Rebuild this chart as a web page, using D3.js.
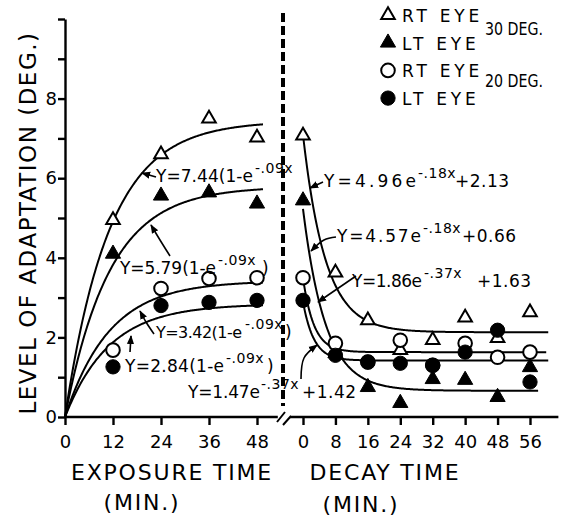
<!DOCTYPE html>
<html lang="en">
<head>
<meta charset="UTF-8">
<title>Level of adaptation: exposure and decay</title>
<script src="https://d3js.org/d3.v7.min.js"></script>
<style>
    body { margin: 0; background: #fff; }
    svg { display: block; font-family: 'DejaVu Sans', sans-serif; }
    .axis path, .axis line { stroke: #000; stroke-width: 2.4; }
    .axis text { font-size: 18px; fill: #000; font-family: 'DejaVu Sans', sans-serif; }
</style>
</head>
<body>
<div id="chart"></div>
<script>
// exposure phase, minutes
const expTimes = [12, 24, 36, 48];
const expRt30 = [4.95, 6.6, 7.5, 7.02];
const expLt30 = [4.1, 5.56, 5.64, 5.36];
const expRt20 = [1.68, 3.23, 3.48, 3.5];
const expLt20 = [1.26, 2.8, 2.88, 2.93];

// decay phase, minutes
const decTimes = [0, 8, 16, 24, 32, 40, 48, 56];
const decRt30 = [7.07, 3.63, 2.43, 1.68, 1.93, 2.5, 1.98, 2.63];
const decLt30 = [5.44, 1.6, 0.75, 0.35, 0.95, 0.93, 0.5, 1.25];
const decRt20 = [3.5, 1.85, 1.38, 1.93, 1.3, 1.85, 1.5, 1.63];
const decLt20 = [2.93, 1.55, 1.38, 1.35, 1.3, 1.63, 2.18, 0.88];

// fitted curves as printed: Y = A(1-e^-kx)  and  Y = A e^-kx + C
const expFitA = [7.44, 5.79, 3.42, 2.84];
const expFitK = 0.09;
const expFitEnd = 49.5;
const decFitA = [4.96, 4.57, 1.86, 1.47];
const decFitK = [0.18, 0.18, 0.37, 0.37];
const decFitC = [2.13, 0.66, 1.63, 1.42];
const decFitEnd = [60.5, 58, 60, 60.5];

const yTicks = [0, 1, 2, 3, 4, 5, 6, 7, 8, 9, 10];
const yLabels = [0, 2, 4, 6, 8];
const expTicks = [0, 12, 24, 36, 48];
const decTicks = [0, 8, 16, 24, 32, 40, 48, 56];
const legendRows = ['RT EYE', 'LT EYE', 'RT EYE', 'LT EYE'];
const legendGroups = ['30 DEG.', '20 DEG.'];

const W = 582, H = 517;

const svg = d3.select('#chart').append('svg')
    .attr('width', W)
    .attr('height', H);

const y = d3.scaleLinear().domain([0, 10]).range([417, 19]);
const xExp = d3.scaleLinear().domain([0, 48]).range([65, 257]);
const xDec = d3.scaleLinear().domain([0, 56]).range([303, 530]);

// arrow head
svg.append('defs').append('marker')
    .attr('id', 'head')
    .attr('viewBox', '0 0 10 10')
    .attr('refX', 9).attr('refY', 5)
    .attr('markerUnits', 'userSpaceOnUse')
    .attr('markerWidth', 9).attr('markerHeight', 9)
    .attr('orient', 'auto')
    .append('path')
    .attr('d', 'M0,1L10,5L0,9z')
    .attr('fill', '#000');

// ---- axes ----
svg.append('g')
    .attr('class', 'axis')
    .attr('transform', `translate(${xExp(0)},0)`)
    .call(d3.axisLeft(y).tickValues(yTicks).tickSize(7).tickSizeOuter(0).tickPadding(1)
        .tickFormat(d => yLabels.includes(d) ? d : ''));

const gExp = svg.append('g')
    .attr('class', 'axis')
    .attr('transform', `translate(0,${y(0)})`)
    .call(d3.axisBottom(xExp).tickValues(expTicks).tickSize(8).tickSizeOuter(0).tickPadding(10));
gExp.select('.domain').attr('d', `M${xExp(0)},0H${xExp(53.2)}`);

const gDec = svg.append('g')
    .attr('class', 'axis')
    .attr('transform', `translate(0,${y(0)})`)
    .call(d3.axisBottom(xDec).tickValues(decTicks).tickSize(8).tickSizeOuter(0).tickPadding(10));
gDec.select('.domain').attr('d', `M${xDec(-3.2)},0H${xDec(63)}`);

// axis break marks
svg.append('path')
    .attr('d', 'M277,422L285,412M283,425L291,416')
    .attr('stroke', '#000').attr('stroke-width', 2).attr('fill', 'none');

// dashed divider
svg.append('line')
    .attr('x1', 283).attr('x2', 283)
    .attr('y1', 13).attr('y2', 406)
    .attr('stroke', '#000').attr('stroke-width', 4)
    .attr('stroke-dasharray', '9,4');

// ---- fitted curves ----
const line = d3.line().x(d => d[0]).y(d => d[1]);

expFitA.forEach(a => {
    const pts = d3.range(0, expFitEnd + 0.01, 0.25)
        .map(t => [xExp(t), y(a * (1 - Math.exp(-expFitK * t)))]);
    svg.append('path').attr('d', line(pts))
        .attr('fill', 'none').attr('stroke', '#000').attr('stroke-width', 2);
});

decFitA.forEach((a, i) => {
    const pts = d3.range(0, decFitEnd[i] + 0.01, 0.25)
        .map(t => [xDec(t), y(a * Math.exp(-decFitK[i] * t) + decFitC[i])]);
    svg.append('path').attr('d', line(pts))
        .attr('fill', 'none').attr('stroke', '#000').attr('stroke-width', 2);
});

// ---- points ----
const series = [
    { exp: expRt30, dec: decRt30, shape: d3.symbolTriangle, size: 80, filled: false },
    { exp: expLt30, dec: decLt30, shape: d3.symbolTriangle, size: 100, filled: true },
    { exp: expRt20, dec: decRt20, shape: d3.symbolCircle, size: 145, filled: false },
    { exp: expLt20, dec: decLt20, shape: d3.symbolCircle, size: 160, filled: true }
];

function drawMarks(s, xs, vals, xScale) {
    svg.append('g').selectAll('path')
        .data(xs.map((t, i) => [t, vals[i]]))
        .join('path')
        .attr('d', d3.symbol(s.shape, s.size)())
        .attr('transform', d => `translate(${xScale(d[0])},${y(d[1])})`)
        .attr('fill', s.filled ? '#000' : '#fff')
        .attr('stroke', '#000')
        .attr('stroke-width', s.filled ? 1 : 2);
}

series.forEach(s => {
    drawMarks(s, expTimes, s.exp, xExp);
    drawMarks(s, decTimes, s.dec, xDec);
});

// ---- equation labels ----
const notes = [
    { x: 156, y: 182, size: 17, main: 'Y=7.44(1-e', w: 97, sup: '-.09x', supX: 255, tail: '', tailX: 0,
      arrow: [[156, 177], [142, 173]] },
    { x: 120, y: 274, size: 17, main: 'Y=5.79(1-e', w: 96, sup: '-.09x', supX: 218, tail: ')', tailX: 262,
      arrow: [[170, 256], [160, 240], [151, 225]] },
    { x: 156, y: 338, size: 16, main: 'Y=3.42(1-e', w: 86, sup: '-.09x', supX: 245, tail: ')', tailX: 285,
      arrow: [[154, 334], [146, 322], [140, 311]] },
    { x: 125, y: 372, size: 17, main: 'Y=2.84(1-e', w: 99, sup: '-.09x', supX: 226, tail: ')', tailX: 267,
      arrow: [[130, 352], [131, 336]] },
    { x: 188, y: 398, size: 17, main: 'Y=1.47e', w: 72, sup: '-.37x', supX: 261, tail: '+1.42', tailX: 302,
      arrow: [[301, 379], [304, 358], [317, 345]] },
    { x: 324, y: 187, size: 17, main: 'Y=4.96e', w: 92, sup: '-.18x', supX: 418, tail: '+2.13', tailX: 455,
      arrow: [[323, 182], [310, 188]] },
    { x: 337, y: 242, size: 17, main: 'Y=4.57e', w: 84, sup: '-.18x', supX: 423, tail: '+0.66', tailX: 462,
      arrow: [[336, 237], [324, 240], [311, 251]] },
    { x: 352, y: 287, size: 17, main: 'Y=1.86e', w: 70, sup: '-.37x', supX: 424, tail: '+1.63', tailX: 477,
      arrow: [[356, 276], [318, 302]] }
];

const arrowLine = d3.line().curve(d3.curveCatmullRom);

notes.forEach(n => {
    svg.append('text')
        .attr('x', n.x).attr('y', n.y)
        .attr('font-size', n.size)
        .attr('textLength', n.w)
        .attr('lengthAdjust', 'spacing')
        .text(n.main);
    svg.append('text')
        .attr('x', n.supX).attr('y', n.y - 9)
        .attr('font-size', 14)
        .attr('letter-spacing', 0.5)
        .text(n.sup);
    if (n.tail) {
        svg.append('text')
            .attr('x', n.tailX).attr('y', n.y)
            .attr('font-size', 17)
            .attr('letter-spacing', 0.5)
            .text(n.tail);
    }
    svg.append('path')
        .attr('d', arrowLine(n.arrow))
        .attr('fill', 'none').attr('stroke', '#000').attr('stroke-width', 1.6)
        .attr('marker-end', 'url(#head)');
});

// ---- legend ----
const legend = svg.append('g');
legendRows.forEach((label, i) => {
    const cy = 15 + i * 27.7;
    const s = series[i];
    legend.append('path')
        .attr('d', d3.symbol(s.shape, s.size)())
        .attr('transform', `translate(388,${cy})`)
        .attr('fill', s.filled ? '#000' : '#fff')
        .attr('stroke', '#000')
        .attr('stroke-width', s.filled ? 1 : 2);
    legend.append('text')
        .attr('x', 402).attr('y', cy + 7)
        .attr('font-size', 17)
        .attr('letter-spacing', 3.8)
        .text(label);
});
legendGroups.forEach((label, i) => {
    legend.append('text')
        .attr('x', 485).attr('y', 35 + i * 52)
        .attr('font-size', 18)
        .attr('textLength', 58)
        .attr('lengthAdjust', 'spacingAndGlyphs')
        .text(label);
});

// ---- axis titles ----
svg.append('text')
    .attr('transform', 'translate(36,223) rotate(-90)')
    .attr('text-anchor', 'middle')
    .attr('font-size', 23)
    .attr('letter-spacing', 1.5)
    .text('LEVEL OF ADAPTATION (DEG.)');

const titles = [
    ['EXPOSURE TIME', 172, 480],
    ['(MIN.)', 142, 510],
    ['DECAY TIME', 385, 480],
    ['(MIN.)', 361, 512]
];
titles.forEach(([txt, x, yy]) => {
    svg.append('text')
        .attr('x', x).attr('y', yy)
        .attr('text-anchor', 'middle')
        .attr('font-size', 22)
        .attr('letter-spacing', 1.8)
        .text(txt);
});
</script>
</body>
</html>
